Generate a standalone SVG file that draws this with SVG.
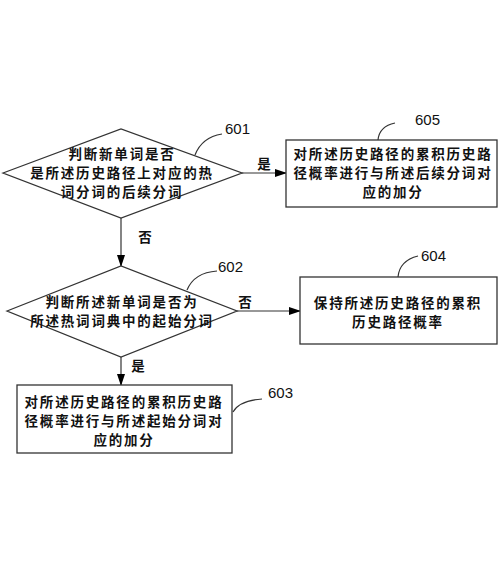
<svg xmlns="http://www.w3.org/2000/svg" width="500" height="571" viewBox="0 0 500 571">
<defs>
<marker id="ah" markerWidth="12" markerHeight="8" refX="11" refY="4" orient="auto" markerUnits="userSpaceOnUse">
<path d="M0,0 L12,4 L0,8 Z" fill="#000"/>
</marker>
<style>
.shape{fill:#fff;stroke:#333;stroke-width:1.3}
.t{font-family:"Noto Sans CJK SC",sans-serif;font-size:13.5px;letter-spacing:1.8px;font-weight:bold;fill:#111;text-anchor:middle;dominant-baseline:central}
.n{font-family:"Liberation Sans",Arial,sans-serif;font-size:15px;fill:#111;dominant-baseline:central}
.c{fill:none;stroke:#333;stroke-width:1.2}
.e{fill:none;stroke:#333;stroke-width:1.2;marker-end:url(#ah)}
</style>
</defs>
<rect width="500" height="571" fill="#fff"/>
<g id="connectors">
<line class="e" x1="242" y1="173" x2="286" y2="173"/>
<line class="e" x1="121" y1="218" x2="121" y2="266"/>
<line class="e" x1="237" y1="311" x2="300" y2="311"/>
<line class="e" x1="121" y1="357" x2="121" y2="385"/>
<text class="t" x="265" y="163">是</text>
<text class="t" x="146" y="236">否</text>
<text class="t" x="246" y="301">否</text>
<text class="t" x="139" y="365">是</text>
</g>
<g id="n601">
<polygon class="shape" points="3,173 121,129 242,173 121,218"/>
<text class="t" x="122" y="153">判断新单词是否</text>
<text class="t" x="122" y="172">是所述历史路径上对应的热</text>
<text class="t" x="122" y="191">词分词的后续分词</text>
<path class="c" d="M195,155 C200,142 210,136 222,134"/>
<text class="n" x="225" y="128">601</text>
</g>
<g id="n605">
<rect class="shape" x="286" y="140" width="211" height="67"/>
<text class="t" x="393" y="153">对所述历史路径的累积历史路</text>
<text class="t" x="393" y="172">径概率进行与所述后续分词对</text>
<text class="t" x="393" y="191">应的加分</text>
<path class="c" d="M378,140 C379,130 385,125 395,123"/>
<text class="n" x="415" y="119">605</text>
</g>
<g id="n602">
<polygon class="shape" points="7,311 121,266 237,311 121,357"/>
<text class="t" x="122" y="301">判断所述新单词是否为</text>
<text class="t" x="122" y="320">所述热词词典中的起始分词</text>
<path class="c" d="M187,290 C192,278 203,272 217,271"/>
<text class="n" x="218" y="266">602</text>
</g>
<g id="n604">
<rect class="shape" x="300" y="277" width="197" height="67"/>
<text class="t" x="398" y="302">保持所述历史路径的累积</text>
<text class="t" x="398" y="321">历史路径概率</text>
<path class="c" d="M398,277 C399,266 406,259 418,256"/>
<text class="n" x="421" y="255">604</text>
</g>
<g id="n603">
<rect class="shape" x="17" y="385" width="215" height="68"/>
<text class="t" x="124" y="401">对所述历史路径的累积历史路</text>
<text class="t" x="124" y="420">径概率进行与所述起始分词对</text>
<text class="t" x="124" y="439">应的加分</text>
<path class="c" d="M233,412 C238,403 248,400 262,399"/>
<text class="n" x="268" y="392">603</text>
</g>
</svg>
